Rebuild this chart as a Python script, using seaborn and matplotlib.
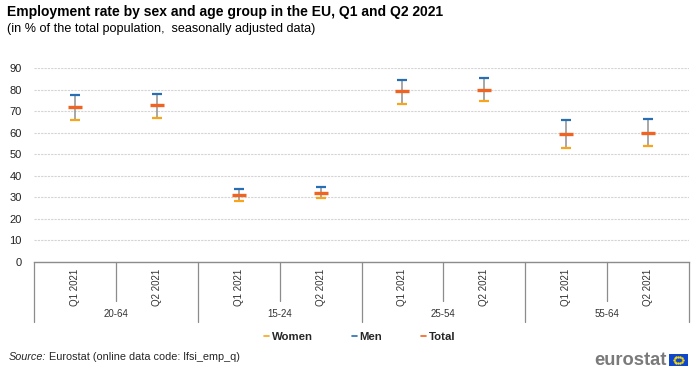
"""
Employment rate by sex and age group in the EU, Q1 and Q2 2021.
"""

import numpy as np
import pandas as pd
import matplotlib.pyplot as plt
import seaborn as sns
from matplotlib.lines import Line2D
from matplotlib.patches import Rectangle

# Data
age_groups = ['20-64', '15-24', '25-54', '55-64']
quarters = ['Q1 2021', 'Q2 2021']
women = [66.1, 66.9, 28.4, 29.6, 73.5, 74.8, 53.2, 53.8]
men = [77.6, 78.2, 34.0, 35.0, 84.7, 85.6, 65.9, 66.5]
total = [72.0, 72.8, 31.3, 32.3, 79.3, 80.2, 59.6, 60.2]

series = ['Women', 'Men', 'Total']
colors = {'Women': '#FAA519', 'Men': '#286EB4', 'Total': '#F06423'}

# Build long-form table
labels = [(g, q) for g in age_groups for q in quarters]
rows = []
for i, (g, q) in enumerate(labels):
    for name, vals in zip(series, [women, men, total]):
        rows.append({'pos': i, 'group': g, 'quarter': q, 'series': name, 'value': vals[i]})
df = pd.DataFrame(rows)

sns.set_theme(style="white")
plt.rcParams['font.family'] = ['Liberation Sans', 'DejaVu Sans']

fig = plt.figure(figsize=(7, 3.7), dpi=100)
ax = fig.add_axes([0.049, 0.292, 0.935, 0.523])

# Grid
ax.set_ylim(0, 90)
ax.set_xlim(-0.5, len(labels) - 0.5)
ax.set_yticks(np.arange(0, 91, 10))
ax.yaxis.grid(True, color='#d4d4d4', linestyle=(0, (2, 1)), linewidth=0.8)
ax.set_axisbelow(True)
for s in ['left', 'right', 'top']:
    ax.spines[s].set_visible(False)
ax.spines['bottom'].set_color('#8c8c8c')
ax.spines['bottom'].set_linewidth(1.0)
ax.tick_params(axis='y', length=0, labelsize=8, labelcolor='#222222', pad=9)
ax.set_xticks([])

# Vertical range line from women to men
wide = df.pivot(index='pos', columns='series', values='value').reset_index()
ax.vlines(wide['pos'], wide['Women'], wide['Men'], color='#909090', linewidth=1.1, zorder=2)

# Caps for each series
sizes = {'Women': 42, 'Men': 42, 'Total': 100}
widths = {'Women': 1.6, 'Men': 1.6, 'Total': 2.4}
for name in series:
    sub = df[df['series'] == name]
    sns.scatterplot(data=sub, x='pos', y='value', marker='_', s=sizes[name],
                    color=colors[name], linewidth=widths[name], ax=ax,
                    legend=False, zorder=3)
ax.set_xlabel('')
ax.set_ylabel('')

# Two-level category axis
trans = ax.get_xaxis_transform()
div_color = '#8c8c8c'
for i, (g, q) in enumerate(labels):
    ax.text(i, -0.035, q, transform=trans, rotation=90, ha='center', va='top',
            fontsize=7, color='#333333')
for j in range(len(labels) + 1):
    x = j - 0.5
    bottom = -0.31 if j % 2 == 0 else -0.2
    ax.plot([x, x], [0, bottom], transform=trans, color=div_color,
            linewidth=0.9, clip_on=False)
for k, g in enumerate(age_groups):
    ax.text(2 * k + 0.5, -0.27, g, transform=trans, ha='center', va='center',
            fontsize=7, color='#333333')

# Titles
fig.text(0.01, 0.968, 'Employment rate by sex and age group in the EU, Q1 and Q2 2021',
         fontsize=10, fontweight='bold', color='#000000', va='center')
fig.text(0.01, 0.922, '(in % of the total population,  seasonally adjusted data)',
         fontsize=9.1, color='#000000', va='center')

# Legend
handles = [Line2D([], [], color=colors[n], linewidth=1.2) for n in series]
leg = fig.legend(handles, series, loc='center', bbox_to_anchor=(0.514, 0.089), ncol=3,
                 frameon=False, handlelength=0.45, handletextpad=0.25, columnspacing=3.4,
                 prop={'weight': 'bold', 'size': 8.2})

# Source line
src = fig.text(0.012, 0.035, 'Source:', fontsize=7.8, style='italic', va='center')
ax.annotate(' Eurostat (online data code: lfsi_emp_q)', xy=(1, 0.5), xycoords=src,
            va='center', ha='left', fontsize=7.8, annotation_clip=False)

# Eurostat logo
fig.text(0.953, 0.027, 'eurostat', fontsize=13.2, fontweight='bold', color='#7a7a7a',
         ha='right', va='center')
flag = fig.add_axes([0.955, 0.012, 0.028, 0.03])
flag.add_patch(Rectangle((0, 0), 1, 1, color='#0E47CB'))
ang = np.linspace(0, 2 * np.pi, 12, endpoint=False)
flag.scatter(0.5 + 0.22 * np.cos(ang), 0.5 + 0.3 * np.sin(ang), s=0.5, color='#FFDD00')
flag.set_xlim(0, 1)
flag.set_ylim(0, 1)
flag.axis('off')

plt.savefig('out.png', dpi=100)
